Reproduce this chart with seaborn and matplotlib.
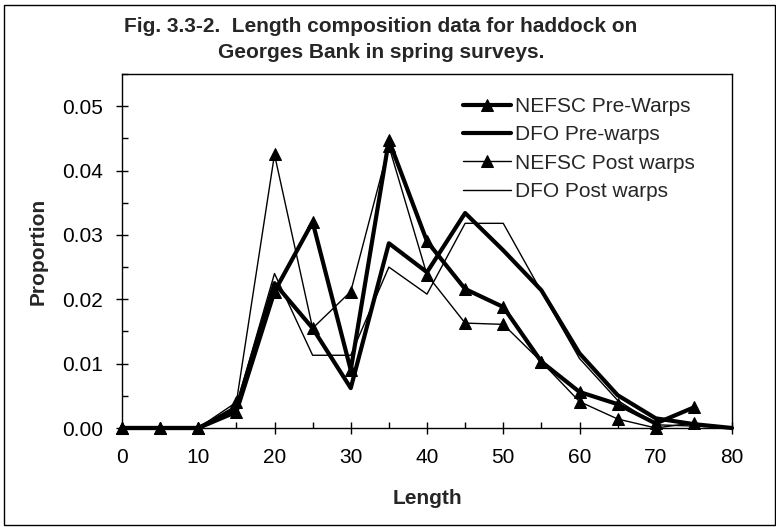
import matplotlib
matplotlib.use("Agg")
import matplotlib.pyplot as plt
import seaborn as sns
import numpy as np
import pandas as pd
from matplotlib.patches import Rectangle
from matplotlib.ticker import MultipleLocator

# ---------------- data ----------------
length = [0, 5, 10, 15, 20, 25, 30, 35, 40, 45, 50, 55, 60, 65, 70, 75, 80]
nefsc_pre = [0, 0, 0, 0.0025, 0.0212, 0.0320, 0.0090, 0.0447, 0.0290, 0.0216,
             0.0188, 0.0103, 0.0056, 0.0037, 0.0007, 0.0032]
dfo_pre = [0, 0, 0, 0.0030, 0.0225, 0.0155, 0.0062, 0.0287, 0.0242, 0.0334,
           0.0276, 0.0214, 0.0116, 0.0051, 0.0015, 0.0006, 0.0]
nefsc_post = [0, 0, 0, 0.0040, 0.0425, 0.0155, 0.0212, 0.0438, 0.0238, 0.0163,
              0.0161, 0.0103, 0.0041, 0.0014, 0.0000, 0.0008]
dfo_post = [0, 0, 0, 0.0035, 0.0240, 0.0113, 0.0113, 0.0250, 0.0208, 0.0318,
            0.0318, 0.0212, 0.0108, 0.0043, 0.0005, 0.0003, 0.0]
series_names = ["NEFSC Pre-Warps", "DFO Pre-warps", "NEFSC Post warps", "DFO Post warps"]
title_lines = ["Fig. 3.3-2.  Length composition data for haddock on",
               "Georges Bank in spring surveys."]

# ---------------- style ----------------
sns.set_style("white")
plt.rcParams["font.family"] = ["Liberation Sans", "DejaVu Sans"]

W, H = 776, 527
fig = plt.figure(figsize=(W / 100, H / 100), dpi=100)
ax = fig.add_axes([122 / W, (H - 428) / H, (732 - 122) / W, (428 - 74) / H])

styles = [
    dict(lw=3.0, marker="^", ms=8),
    dict(lw=3.0, marker=None, ms=0),
    dict(lw=1.0, marker="^", ms=8),
    dict(lw=1.0, marker=None, ms=0),
]
data_list = [nefsc_pre, dfo_pre, nefsc_post, dfo_post]
for name, vals, st in zip(series_names, data_list, styles):
    df = pd.DataFrame({"Length": length[:len(vals)], "Proportion": vals})
    kw = dict(color="black", linewidth=st["lw"], label=name, clip_on=False)
    if st["marker"]:
        kw.update(marker=st["marker"], markersize=st["ms"],
                  markeredgecolor="black", markerfacecolor="black")
    sns.lineplot(data=df, x="Length", y="Proportion", ax=ax, **kw)

ax.set_xlim(0, 80)
ax.set_ylim(0, 0.055)
ax.xaxis.set_major_locator(MultipleLocator(10))
ax.xaxis.set_minor_locator(MultipleLocator(5))
ax.yaxis.set_major_locator(MultipleLocator(0.01))
ax.yaxis.set_minor_locator(MultipleLocator(0.005))
ax.set_yticks([0, 0.01, 0.02, 0.03, 0.04, 0.05])
ax.set_yticklabels(["0.00", "0.01", "0.02", "0.03", "0.04", "0.05"])
ax.tick_params(which="major", direction="inout", length=9, width=1,
               color="black", labelsize=15, labelcolor="black")
ax.tick_params(axis="y", which="major", pad=9)
ax.tick_params(axis="x", which="major", pad=10)
ax.tick_params(which="minor", direction="in", length=4, width=1, color="black")
ax.tick_params(axis="both", which="both", bottom=True, left=True, top=False, right=False)

for s in ax.spines.values():
    s.set_visible(True)
    s.set_color("black")
    s.set_linewidth(1.0)

ax.set_xlabel("Length", fontsize=15, fontweight="bold")
ax.set_ylabel("Proportion", fontsize=15, fontweight="bold")
ax.xaxis.set_label_coords(0.5, -(498 - 428) / 354)
ax.xaxis.label.set_va("center")
ax.yaxis.set_label_coords(-(122 - 38) / 610, 0.5)
ax.yaxis.label.set_va("center")

leg = ax.legend(loc="upper left", bbox_to_anchor=(463 / W, 1 - 97 / H),
                bbox_transform=fig.transFigure, frameon=False, fontsize=15,
                handlelength=2.3, handletextpad=0.2, labelspacing=0.45,
                borderpad=0, borderaxespad=0)

fig.text(381 / W, 1 - 27 / H, title_lines[0], ha="center", va="center",
         fontsize=15, fontweight="bold",
         family=["Liberation Sans Narrow", "Liberation Sans", "DejaVu Sans"])
fig.text(381 / W, 1 - 53 / H, title_lines[1], ha="center", va="center",
         fontsize=15, fontweight="bold",
         family=["Liberation Sans Narrow", "Liberation Sans", "DejaVu Sans"])

fig.patches.append(Rectangle((4 / W, 2 / H), (775 - 4) / W, (522 - 2) / H,
                             transform=fig.transFigure, fill=False,
                             edgecolor="black", linewidth=1.0))

fig.savefig("out.png", dpi=100)
